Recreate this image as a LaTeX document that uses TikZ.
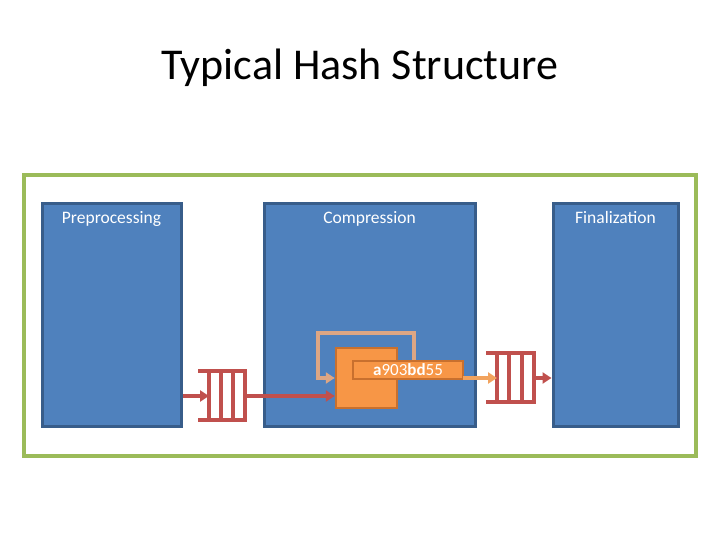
\documentclass[tikz,border=0pt]{standalone}
\usepackage{fontspec}
\setmainfont{Carlito}
\usetikzlibrary{arrows.meta}
\definecolor{blueF}{HTML}{4F81BD}
\definecolor{blueD}{HTML}{385D8A}
\definecolor{greenB}{HTML}{9BBB59}
\definecolor{redQ}{HTML}{C0504D}
\definecolor{orangeF}{HTML}{F79646}
\definecolor{orangeD}{HTML}{C8702E}
\definecolor{tanL}{HTML}{DDA684}
\definecolor{orangeL}{HTML}{F2A35E}
\tikzset{
  stagebox/.style={draw=blueD, fill=blueF, line width=3pt, inner sep=0pt},
  stagelabel/.style={text=white, font=\fontsize{17.5}{20}\selectfont, anchor=base, inner sep=0pt},
  queueline/.style={draw=redQ, line width=3.5pt},
  redarrow/.style={draw=redQ, line width=3.5pt, -{Triangle[length=9pt,width=11pt]}},
  looparrow/.style={draw=tanL, line width=3.5pt, -{Triangle[length=9pt,width=11pt]}},
  outarrow/.style={draw=orangeL, line width=3.5pt, -{Triangle[length=9pt,width=11pt]}},
}
\begin{document}
\begin{tikzpicture}[x=1pt,y=-1pt]
\useasboundingbox (0,0) rectangle (720,540);
% title
\node[anchor=base, inner sep=0pt, font=\fontsize{44}{50}\selectfont] (title) at (360,80) {Typical Hash Structure};
% frame
\node[draw=greenB, line width=3.5pt, minimum width=672pt, minimum height=281pt, inner sep=0pt] (frame) at (360,315.5) {};
% stages
\node[stagebox, minimum width=139pt, minimum height=222pt] (pre) at (111.5,315) {};
\node[stagebox, minimum width=211pt, minimum height=222pt] (comp) at (369.5,315) {};
\node[stagebox, minimum width=125pt, minimum height=222pt] (fin) at (615.5,315) {};
\node[stagelabel] (preL) at (111.5,224) {Preprocessing};
\node[stagelabel] (compL) at (369.5,224) {Compression};
\node[stagelabel] (finL) at (615.5,224) {Finalization};
% left queue
\coordinate (qLin) at (209,396);
\coordinate (qLout) at (245,396);
\draw[queueline] (198,371) -- (247,371);
\draw[queueline] (198,420) -- (247,420);
\foreach \x in {209,221,233,245} \draw[queueline] (\x,371) -- (\x,420);
% right queue
\coordinate (qRin) at (497,378);
\coordinate (qRout) at (534,378);
\draw[queueline] (486,353) -- (536,353);
\draw[queueline] (486,402) -- (536,402);
\foreach \x in {497,509,522,534} \draw[queueline] (\x,353) -- (\x,402);
% compression function
\node[draw=orangeD, fill=orangeF, line width=2.5pt, minimum width=61pt, minimum height=60pt, inner sep=0pt] (cf) at (366.5,378) {};
% loop
\coordinate (loopA) at (414,333);
\coordinate (loopB) at (318,333);
\coordinate (loopC) at (318,378);
\node[draw=orangeD, fill=orangeF, line width=2.5pt, minimum width=110pt, minimum height=18pt, inner sep=0pt, text=white, font=\fontsize{17}{18}\selectfont] (hv) at (408,370) {\textbf{a}903\textbf{bd}55};
\draw[looparrow] (hv.north -| loopA) -- (loopA) -- (loopB) -- (loopC) -- (cf.west |- loopC);
% arrows
\coordinate (hvOut) at (463,378);
\draw[redarrow] (pre.east |- qLin) -- (qLin);
\draw[redarrow] (qLout) -- (cf.west |- qLout);
\draw[outarrow] (hvOut) -- (qRin);
\draw[redarrow] (qRout) -- (fin.west |- qRout);
\end{tikzpicture}
\end{document}
